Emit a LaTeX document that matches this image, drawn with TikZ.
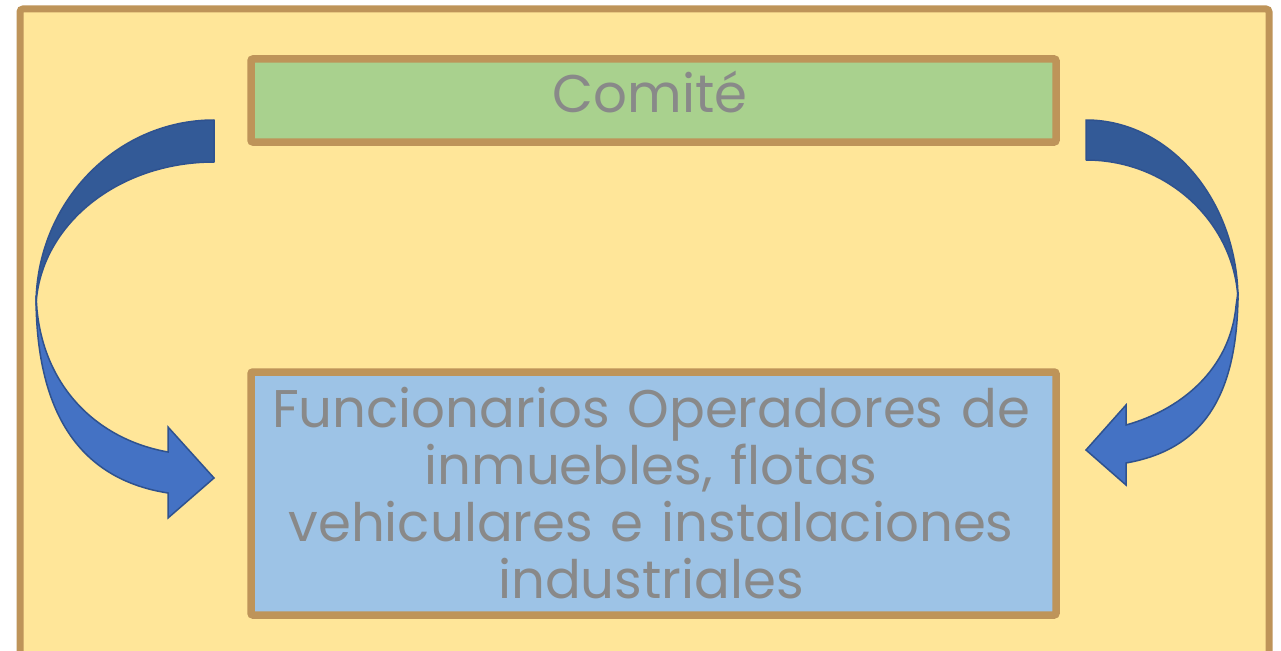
\documentclass[tikz,border=0pt]{standalone}
\usepackage{fontspec}
\setmainfont{Poppins}
\definecolor{bgyellow}{HTML}{FFE699}
\definecolor{tan}{HTML}{BE9459}
\definecolor{boxgreen}{HTML}{A9D18E}
\definecolor{boxblue}{HTML}{9DC3E6}
\definecolor{arrowdark}{HTML}{335A97}
\definecolor{arrowlight}{HTML}{4472C4}
\definecolor{arrowedge}{HTML}{2F528F}
\definecolor{txtgray}{HTML}{898989}
\tikzset{
  frame/.style={draw=tan, line width=7pt, fill=bgyellow, rounded corners=3pt},
  boxnode/.style={draw=tan, line width=7.5pt, rounded corners=2pt, inner sep=0pt, outer sep=0pt},
  lbl/.style={text=txtgray, inner sep=0pt, font=\fontsize{53}{57}\selectfont},
  bandback/.style={fill=arrowdark, draw=arrowedge, line width=1.5pt, line join=round},
  bandfront/.style={fill=arrowlight, draw=arrowedge, line width=1.5pt, line join=miter},
}
\begin{document}
\begin{tikzpicture}[x=1pt,y=-1pt]
\useasboundingbox (0,0) rectangle (1281,650);
\begin{scope}
  \clip (0,0) rectangle (1281,650);
  \draw[frame] (20,9) rectangle (1269,690);
\end{scope}
\node[boxnode, fill=boxgreen, minimum width=805pt, minimum height=83pt] (comite) at (653.5,100.5) {};
\node[boxnode, fill=boxblue, minimum width=805pt, minimum height=243pt] (func) at (653.5,493.5) {};
\node[lbl, anchor=base] (comitetext) at (650,113) {Comité};
\node[lbl, anchor=base, text width=800pt, align=center] (functext) at (651,427)
  {Funcionarios Operadores de\\inmuebles, flotas\\vehiculares e instalaciones\\industriales};
% left curved arrow
\coordinate (ls1) at (214,120);
\coordinate (ls2) at (214,162);
\coordinate (lm) at (36,305);
\coordinate (lb1) at (168,493);
\coordinate (lb2) at (168,518);
\coordinate (ltip) at (214,478);
\coordinate (lb3) at (168,427);
\coordinate (lb4) at (168,452);
\path[bandfront] (36,296) .. controls (36,420) and (85,480) .. (lb1) -- (lb2) -- (ltip) -- (lb3) -- (lb4)
  .. controls (100,440) and (45,390) .. (37,310) -- cycle;
\path[bandback] (ls1) .. controls (116,120) and (36,203) .. (lm) .. controls (40,225) and (118,162) .. (ls2) -- cycle;
% right curved arrow
\coordinate (rs1) at (1086,120);
\coordinate (rs2) at (1086,160);
\coordinate (rm) at (1238,300);
\coordinate (rb1) at (1126,463);
\coordinate (rb2) at (1126,485);
\coordinate (rtip) at (1086,450);
\coordinate (rb3) at (1126,405);
\coordinate (rb4) at (1126,425);
\path[bandfront] (1238,292) .. controls (1238,400) and (1200,450) .. (rb1) -- (rb2) -- (rtip) -- (rb3) -- (rb4)
  .. controls (1180,410) and (1230,370) .. (1236,306) -- cycle;
\path[bandback] (rs1) .. controls (1170,120) and (1238,201) .. (rm) .. controls (1235,225) and (1170,160) .. (rs2) -- cycle;
\end{tikzpicture}
\end{document}
